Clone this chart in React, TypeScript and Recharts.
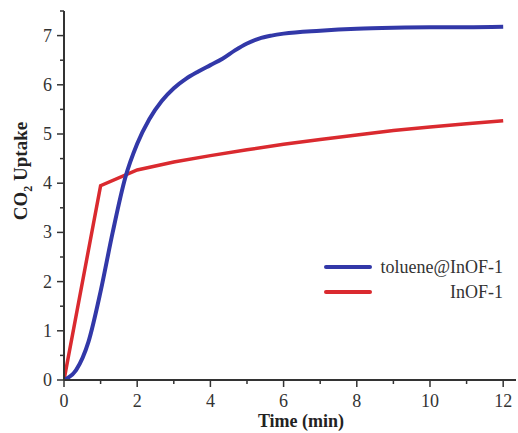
import React from 'react';
import { LineChart, Line, XAxis, YAxis, Label } from 'recharts';

// readings taken off the figure
const blueTime = [0, 0.33, 0.67, 1, 1.33, 1.67, 2, 2.33, 2.67, 3, 3.33, 3.67, 4, 4.33, 4.67, 5, 5.33, 5.67, 6, 7, 8, 9, 10, 11, 12];
const blueUptake = [0, 0.2, 0.78, 1.8, 3.0, 4.1, 4.8, 5.3, 5.67, 5.93, 6.12, 6.27, 6.4, 6.53, 6.7, 6.84, 6.94, 7.0, 7.04, 7.1, 7.14, 7.16, 7.17, 7.17, 7.18];
const redTime = [0, 1, 2, 3, 4, 5, 6, 7, 8, 9, 10, 11, 12];
const redUptake = [0, 3.95, 4.27, 4.43, 4.56, 4.68, 4.79, 4.89, 4.98, 5.07, 5.14, 5.21, 5.27];

const seriesNames = ['toluene@InOF-1', 'InOF-1'];
const xTicks = [0, 1, 2, 3, 4, 5, 6, 7, 8, 9, 10, 11, 12];
const yTicks = [0, 0.5, 1, 1.5, 2, 2.5, 3, 3.5, 4, 4.5, 5, 5.5, 6, 6.5, 7, 7.5];

const BLUE = '#3238a8';
const RED = '#da2a2f';
const AXIS = '#333333';
const FONT = "'Liberation Serif', 'Times New Roman', serif";

const blueData = blueTime.map((t, i) => ({ t, v: blueUptake[i] }));
const redData = redTime.map((t, i) => ({ t, v: redUptake[i] }));

const XTick = (props: any) => {
  const { x, y, payload } = props;
  const major = payload.value % 2 === 0;
  return (
    <g>
      <line x1={x} x2={x} y1={y} y2={y + (major ? 7 : 4)} stroke={AXIS} strokeWidth={1.5} />
      {major && (
        <text x={x} y={y + 27} textAnchor="middle" fontSize={18} style={{ fontFamily: FONT }} fill={AXIS}>
          {payload.value}
        </text>
      )}
    </g>
  );
};

const YTick = (props: any) => {
  const { x, y, payload } = props;
  const major = Number.isInteger(payload.value);
  return (
    <g>
      <line x1={x} x2={x - (major ? 7 : 4)} y1={y} y2={y} stroke={AXIS} strokeWidth={1.5} />
      {major && (
        <text x={x - 12} y={y + 6} textAnchor="end" fontSize={18} style={{ fontFamily: FONT }} fill={AXIS}>
          {payload.value}
        </text>
      )}
    </g>
  );
};

const XTitle = () => (
  <text x={301} y={427} textAnchor="middle" fontSize={18} fontWeight="bold" style={{ fontFamily: FONT }} fill="#222">
    Time (min)
  </text>
);

const YTitle = () => (
  <text
    x={27}
    y={171}
    textAnchor="middle"
    fontSize={19}
    fontWeight="bold"
    style={{ fontFamily: FONT }}
    fill="#222"
    transform="rotate(-90, 27, 171)"
  >
    CO<tspan fontSize={12} dy={5}>2</tspan>
    <tspan dy={-5}> Uptake</tspan>
  </text>
);

const legendColors = [BLUE, RED];

const LegendBox = () => (
  <svg width={518} height={433} style={{ position: 'absolute', left: 0, top: 0, pointerEvents: 'none' }}>
    {seriesNames.map((name, i) => {
      const cy = 267 + i * 25;
      return (
        <g key={name}>
          <line x1={326} x2={370} y1={cy} y2={cy} stroke={legendColors[i]} strokeWidth={4} strokeLinecap="round" />
          <text x={503} y={cy + 6} textAnchor="end" fontSize={18} style={{ fontFamily: FONT }} fill={AXIS}>
            {name}
          </text>
        </g>
      );
    })}
  </svg>
);

export default function App() {
  return (
    <div style={{ position: 'relative', width: 518, height: 433, background: '#fff' }}>
      <style>{'body{margin:0;background:#fff}'}</style>
      <LineChart width={518} height={433} margin={{ top: 11, right: 2, bottom: 0, left: 0 }}>
        <XAxis
          type="number"
          dataKey="t"
          domain={[0, 12.35]}
          ticks={xTicks}
          interval={0}
          tickSize={0}
          tickMargin={0}
          tickLine={false}
          tick={<XTick />}
          height={53}
          axisLine={{ stroke: AXIS, strokeWidth: 2 }}
          allowDataOverflow
        >
          <Label content={<XTitle />} />
        </XAxis>
        <YAxis
          type="number"
          dataKey="v"
          domain={[0, 7.5]}
          ticks={yTicks}
          interval={0}
          tickSize={0}
          tickMargin={0}
          tickLine={false}
          tick={<YTick />}
          width={64}
          axisLine={{ stroke: AXIS, strokeWidth: 2 }}
          allowDataOverflow
        >
          <Label content={<YTitle />} />
        </YAxis>
        <Line
          data={redData}
          dataKey="v"
          name={seriesNames[1]}
          type="linear"
          stroke={RED}
          strokeWidth={3.5}
          dot={false}
          isAnimationActive={false}
        />
        <Line
          data={blueData}
          dataKey="v"
          name={seriesNames[0]}
          type="monotone"
          stroke={BLUE}
          strokeWidth={4}
          dot={false}
          isAnimationActive={false}
        />
      </LineChart>
      <LegendBox />
    </div>
  );
}
